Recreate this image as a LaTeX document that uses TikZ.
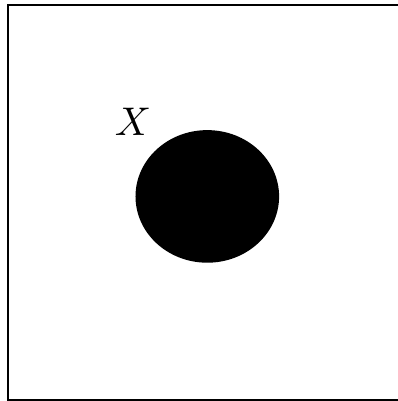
\documentclass[tikz,border=0pt]{standalone}
\begin{document}
\begin{tikzpicture}[x=0.25pt,y=-0.25pt]
        % Estilo del marco
        \tikzset{marco/.style={draw=black, line width=0.5pt}}
        \useasboundingbox (0,0) rectangle (398,401);

        % --- MARCO ---
        \begin{scope}
            \clip (0,0) rectangle (398,401);
            \draw[marco] (8,5) rectangle (420,400);
        \end{scope}

        % --- DISCO ---
        \fill[black] (207.3,196.4) ellipse [x radius=71.8, y radius=66.3];
        \node (etiqueta) at (133,122) {$X$};
    \end{tikzpicture}
\end{document}
